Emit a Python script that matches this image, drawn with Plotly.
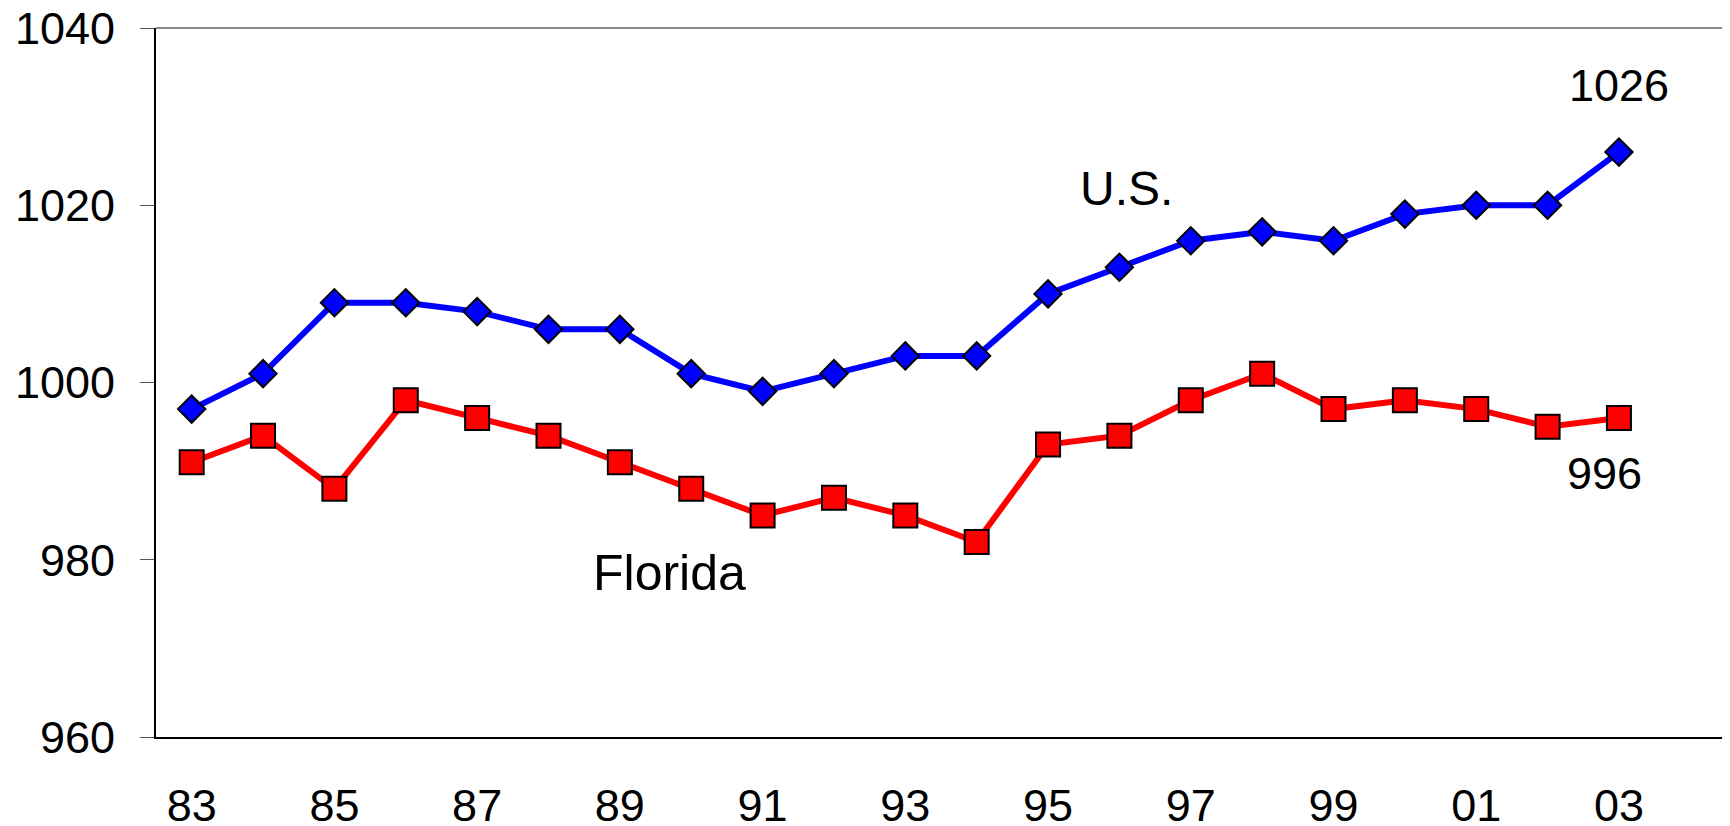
import plotly.graph_objects as go

years = list(range(1983, 2004))
us = [997, 1001, 1009, 1009, 1008, 1006, 1006, 1001, 999, 1001, 1003, 1003,
      1010, 1013, 1016, 1017, 1016, 1019, 1020, 1020, 1026]
florida = [991, 994, 988, 998, 996, 994, 991, 988, 985, 987, 985, 982,
           993, 994, 998, 1001, 997, 998, 997, 995, 996]
tick_years = list(range(1983, 2004, 2))
tick_text = ["83", "85", "87", "89", "91", "93", "95", "97", "99", "01", "03"]
y_ticks = [960, 980, 1000, 1020, 1040]

FONT = "Liberation Sans, Arial, sans-serif"

fig = go.Figure()
fig.add_trace(go.Scatter(
    x=years, y=us, mode="lines+markers", name="U.S.",
    line=dict(color="#0000FF", width=6),
    marker=dict(symbol="diamond", size=21, color="#0000FF",
                line=dict(color="black", width=2)),
))
fig.add_trace(go.Scatter(
    x=years, y=florida, mode="lines+markers", name="Florida",
    line=dict(color="#FF0000", width=6),
    marker=dict(symbol="square", size=24, color="#FF0000",
                line=dict(color="black", width=2)),
))

fig.update_layout(
    width=1730, height=826,
    margin=dict(l=148, r=12, t=20, b=97),
    paper_bgcolor="white", plot_bgcolor="white",
    showlegend=False,
    font=dict(family=FONT, size=45, color="black"),
    xaxis=dict(
        range=[1982.5, 2004.5], tickvals=tick_years, ticktext=tick_text,
        showgrid=False, zeroline=False, showline=True, linecolor="black",
        linewidth=2, ticks="", ticklabelstandoff=28, automargin=False,
        ticklabeloverflow="allow",
        tickfont=dict(family=FONT, size=45, color="black"),
    ),
    yaxis=dict(
        range=[960, 1040], tickvals=y_ticks, showgrid=False, zeroline=False,
        showline=True, linecolor="black", linewidth=2, mirror=True,
        ticks="outside", ticklen=14, tickwidth=1, tickcolor="#555555",
        ticklabelstandoff=16, automargin=False, ticklabeloverflow="allow",
        tickfont=dict(family=FONT, size=45, color="black"),
    ),
    shapes=[dict(type="line", xref="paper", yref="paper", x0=0, x1=1,
                 y0=1, y1=1, line=dict(color="#888888", width=2))],
    annotations=[
        dict(x=2003.0, y=1033.5, text="1026", showarrow=False,
             font=dict(family=FONT, size=45)),
        dict(x=1996.1, y=1021.9, text="U.S.", showarrow=False,
             font=dict(family=FONT, size=48)),
        dict(x=2002.8, y=989.7, text="996", showarrow=False,
             font=dict(family=FONT, size=45)),
        dict(x=1989.7, y=978.5, text="Florida", showarrow=False,
             font=dict(family=FONT, size=50)),
    ],
)

fig.write_html("out.html")
